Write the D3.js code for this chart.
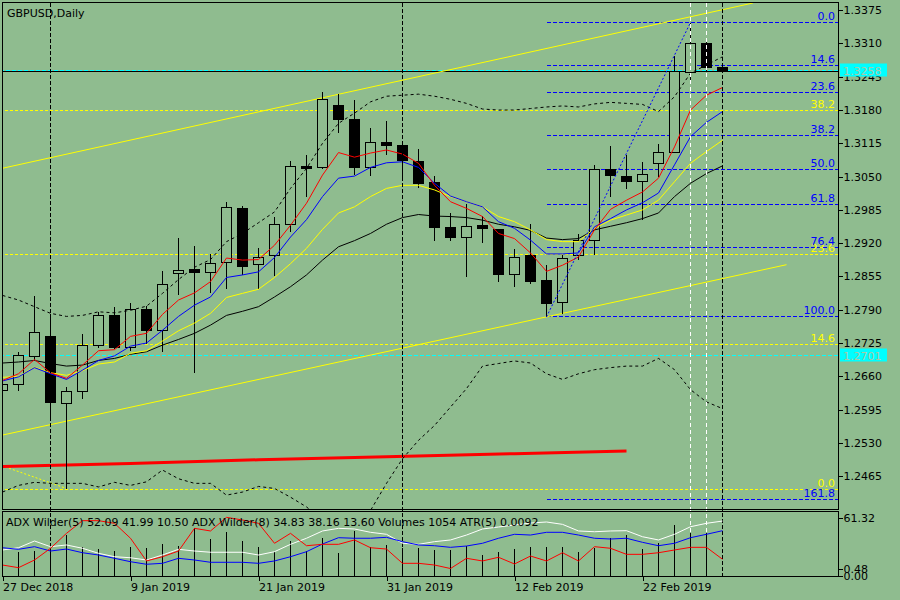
<!DOCTYPE html>
<html><head><meta charset="utf-8">
<script src="https://cdn.jsdelivr.net/npm/d3@7"></script>
<style>
html,body{margin:0;padding:0;background:#8FBC8F;}
svg{display:block;font-family:"DejaVu Sans",sans-serif;font-size:11px;}
</style></head><body>
<svg id="c" width="900" height="600"></svg>
<script>
// ---------------- DATA ----------------
const dates = ["2018-12-27","2018-12-28","2018-12-31","2019-01-02","2019-01-03","2019-01-04","2019-01-07","2019-01-08","2019-01-09","2019-01-10","2019-01-11","2019-01-14","2019-01-15","2019-01-16","2019-01-17","2019-01-18","2019-01-21","2019-01-22","2019-01-23","2019-01-24","2019-01-25","2019-01-28","2019-01-29","2019-01-30","2019-01-31","2019-02-01","2019-02-04","2019-02-05","2019-02-06","2019-02-07","2019-02-08","2019-02-11","2019-02-12","2019-02-13","2019-02-14","2019-02-15","2019-02-18","2019-02-19","2019-02-20","2019-02-21","2019-02-22","2019-02-25","2019-02-26","2019-02-27","2019-02-28","2019-03-01"];
const open  = [1.2634,1.2646,1.2700,1.2739,1.2608,1.2632,1.2722,1.2780,1.2718,1.2792,1.2751,1.2861,1.2869,1.2863,1.2884,1.2988,1.2880,1.2896,1.2957,1.3071,1.3069,1.3189,1.3163,1.3069,1.3118,1.3112,1.3081,1.3040,1.2952,1.2932,1.2956,1.2947,1.2860,1.2896,1.2849,1.2805,1.2896,1.2927,1.3065,1.3052,1.3041,1.3077,1.3098,1.3255,1.3311,1.3264];
const high  = [1.2657,1.2709,1.2818,1.2784,1.2642,1.2745,1.2788,1.2798,1.2806,1.2800,1.2868,1.2933,1.2917,1.2900,1.3003,1.2995,1.2913,1.2974,1.3083,1.3095,1.3218,1.3214,1.3202,1.3147,1.3161,1.3122,1.3105,1.3054,1.2981,1.2999,1.2976,1.2950,1.2911,1.2960,1.2880,1.2898,1.2940,1.3075,1.3111,1.3095,1.3081,1.3116,1.3288,1.3352,1.3321,1.3267];
const low   = [1.2624,1.2634,1.2693,1.2579,1.2442,1.2618,1.2718,1.2716,1.2712,1.2726,1.2710,1.2820,1.2669,1.2825,1.2833,1.2859,1.2833,1.2857,1.2943,1.3012,1.3066,1.3137,1.3056,1.3054,1.3095,1.3044,1.3030,1.2926,1.2926,1.2855,1.2922,1.2846,1.2836,1.2843,1.2777,1.2784,1.2890,1.2898,1.3012,1.3028,1.2967,1.3051,1.3098,1.3236,1.3259,1.3256];
const close = [1.2646,1.2702,1.2747,1.2609,1.2632,1.2722,1.2780,1.2718,1.2792,1.2751,1.2841,1.2868,1.2864,1.2882,1.2990,1.2876,1.2894,1.2958,1.3070,1.3066,1.3202,1.3162,1.3068,1.3118,1.3111,1.3082,1.3038,1.2952,1.2932,1.2954,1.2949,1.2859,1.2893,1.2846,1.2803,1.2891,1.2926,1.3065,1.3053,1.3041,1.3056,1.3098,1.3256,1.3311,1.3264,1.3258];

const maRed    = [1.2653,1.2666,1.2694,1.2668,1.2657,1.2683,1.2711,1.2713,1.2739,1.2745,1.2782,1.2810,1.2824,1.2846,1.2892,1.2888,1.2889,1.2917,1.2956,1.2999,1.3054,1.3098,1.3089,1.3097,1.3103,1.3095,1.3077,1.3034,1.3002,1.2989,1.2973,1.2940,1.2930,1.2902,1.2866,1.2878,1.2894,1.2947,1.2987,1.3005,1.3021,1.3048,1.3109,1.3181,1.3210,1.3225];
const maBlue   = [1.2652,1.2660,1.2678,1.2666,1.2655,1.2673,1.2692,1.2701,1.2720,1.2726,1.2751,1.2778,1.2800,1.2816,1.2854,1.2859,1.2865,1.2893,1.2933,1.2967,1.3012,1.3048,1.3052,1.3069,1.3078,1.3080,1.3069,1.3038,1.3013,1.3002,1.2992,1.2963,1.2950,1.2927,1.2900,1.2900,1.2902,1.2953,1.2969,1.2986,1.3000,1.3019,1.3074,1.3129,1.3157,1.3178];
const maYellow = [1.2659,1.2661,1.2679,1.2668,1.2663,1.2672,1.2685,1.2689,1.2706,1.2711,1.2730,1.2750,1.2765,1.2784,1.2815,1.2823,1.2831,1.2854,1.2881,1.2911,1.2948,1.2980,1.2992,1.3012,1.3028,1.3034,1.3034,1.3025,1.3012,1.3002,1.2992,1.2973,1.2963,1.2947,1.2928,1.2924,1.2924,1.2950,1.2966,1.2976,1.2986,1.3005,1.3041,1.3077,1.3100,1.3122];
const maBlack  = [1.2687,1.2689,1.2692,1.2686,1.2681,1.2683,1.2692,1.2696,1.2704,1.2709,1.2722,1.2733,1.2745,1.2761,1.2780,1.2788,1.2797,1.2816,1.2836,1.2859,1.2888,1.2914,1.2926,1.2940,1.2958,1.2971,1.2977,1.2974,1.2973,1.2971,1.2966,1.2958,1.2953,1.2946,1.2931,1.2928,1.2930,1.2947,1.2954,1.2961,1.2969,1.2980,1.3012,1.3038,1.3057,1.3072];
const bandUpper = [1.2819,1.2810,1.2797,1.2784,1.2778,1.2780,1.2787,1.2785,1.2790,1.2798,1.2823,1.2850,1.2874,1.2889,1.2924,1.2940,1.2961,1.2982,1.3028,1.3067,1.3116,1.3155,1.3175,1.3197,1.3208,1.3210,1.3212,1.3208,1.3202,1.3194,1.3183,1.3181,1.3181,1.3184,1.3187,1.3189,1.3187,1.3193,1.3196,1.3194,1.3192,1.3178,1.3207,1.3253,1.3269,1.3285];
const bandLower = [1.2435,1.2448,1.2454,1.2452,1.2452,1.2452,1.2445,1.2454,1.2448,1.2455,1.2478,1.2461,1.2452,1.2452,1.2429,1.2435,1.2446,1.2442,1.2425,1.2406,1.2380,1.2364,1.2370,1.2399,1.2452,1.2500,1.2536,1.2565,1.2601,1.2637,1.2681,1.2686,1.2691,1.2687,1.2666,1.2655,1.2666,1.2674,1.2678,1.2681,1.2681,1.2696,1.2674,1.2635,1.2611,1.2598];

const maLongBars   = [0, 8, 16, 24, 32, 39];
const maLongValues = [1.2485, 1.2491, 1.2498, 1.2504, 1.2510, 1.2515];

const channelUpper = [[-0.19, 1.3066], [46.9, 1.3390]];
const channelLower = [[-0.19, 1.2545], [49.0, 1.2879]];
const fibBlueTrend = [[34, 1.2777], [43, 1.3352]];
const fibYellowTrend = [[-1, 1.2497], [4, 1.2442]];

const fibBlueStart  = 34;
const fibBlueLevels = [0.0, 14.6, 23.6, 38.2, 50.0, 61.8, 76.4, 100.0, 161.8];
const fibBluePrices = [1.3352, 1.3268, 1.3216, 1.3132, 1.3064, 1.2997, 1.2912, 1.2777, 1.2420];
const fibYellowLevels = [0.0, 14.6, 23.6, 38.2];
const fibYellowPrices = [1.2440, 1.2723, 1.2898, 1.3181];

const bidPrice = 1.3258;
const hLinePrices = [1.3258, 1.2701];
const markerBars = [43, 44];

const priceTicks = [1.2465,1.2530,1.2595,1.2660,1.2725,1.2790,1.2855,1.2920,1.2985,1.3050,1.3115,1.3180,1.3245,1.3310,1.3375];
const dateTickBars = [0, 8, 16, 24, 32, 40];

// indicator window
const adxRed   = [11.6,8.8,16.9,29.3,45.1,58.5,58.5,55.7,39.9,15.9,20.4,26.4,50.4,47.6,62.0,59.2,55.7,34.6,45.1,32.0,33.5,33.5,38.1,29.9,28.5,13.4,13.4,11.6,7.9,18.7,15.9,19.8,12.7,21.1,15.9,24.6,15.9,31.0,29.3,22.9,22.9,24.6,27.5,30.3,30.3,17.7];
const adxWhite = [27.5,29.9,37.0,31.0,32.8,29.3,24.0,20.4,19.3,16.9,22.2,28.2,26.4,25.1,25.1,25.1,22.2,25.7,33.5,39.9,47.6,50.4,49.7,46.2,44.1,34.6,33.5,36.3,38.1,43.3,49.7,51.8,53.9,56.0,57.1,54.6,47.6,46.8,47.6,47.9,41.5,38.1,44.1,52.1,55.7,58.1];
const adxBlue  = [29.9,28.2,31.0,26.4,28.5,24.6,22.2,18.7,15.1,12.4,13.4,18.7,16.9,14.5,14.5,14.5,13.4,15.9,20.4,25.7,33.8,40.5,39.9,39.9,40.9,36.3,32.8,32.0,30.3,31.7,34.6,39.9,44.1,43.3,46.2,46.2,43.3,39.9,39.1,39.9,35.6,32.0,34.6,40.5,44.1,47.9];
const volumes  = [56000,47400,50000,56000,82000,58600,54000,50000,58600,55400,63400,60600,95400,74000,87400,70000,58600,48600,70000,50600,75400,45400,90000,57400,62000,55400,56600,52000,52000,60600,42000,48600,54000,58600,57400,57400,48600,56600,75400,82000,54000,65400,102000,86600,85400,1054];
const panelTickValues = [61.32, 7.6, 0];
const panelTickLabels = ["61.32", "0.48", "0.00"];
const headerText = "ADX Wilder(5) 52.09 41.99 10.50 ADX Wilder(8) 34.83 38.16 13.60 Volumes 1054 ATR(5) 0.0092";
const titleText = "GBPUSD,Daily";

// ---------------- DRAW ----------------
const BG = "#8FBC8F";
const svg = d3.select("#c");
const n = close.length;
const x = d3.scaleLinear().domain([0, 45]).range([2.5, 722.5]);
const y = d3.scaleLinear().domain([1.2465, 1.3375]).range([476.7, 10.7]);
const py = d3.scaleLinear().domain([0, 61.32]).range([576, 518]);
const vy = d3.scaleLinear().domain([0, 116000]).range([576, 518]);
const fy = p => Math.floor(y(p)) + 0.5;

svg.append("rect").attr("width", 900).attr("height", 600).attr("fill", BG);

const defs = svg.append("defs");
defs.append("clipPath").attr("id", "cm").append("rect").attr("x", 3).attr("y", 3).attr("width", 835).attr("height", 506);
defs.append("clipPath").attr("id", "cp").append("rect").attr("x", 3).attr("y", 512).attr("width", 835).attr("height", 64);

const gm = svg.append("g").attr("clip-path", "url(#cm)");

// yellow fib horizontal levels (full width)
gm.selectAll("line.fy").data(fibYellowPrices).join("line")
  .attr("x1", 0).attr("x2", 838).attr("y1", fy).attr("y2", fy)
  .attr("stroke", "#ffff00").attr("stroke-dasharray", "3,2").attr("shape-rendering", "crispEdges");
// blue fib horizontal levels
gm.selectAll("line.fb").data(fibBluePrices).join("line")
  .attr("x1", x(fibBlueStart)).attr("x2", 838).attr("y1", fy).attr("y2", fy)
  .attr("stroke", "#0000ff").attr("stroke-dasharray", "4,2").attr("shape-rendering", "crispEdges");
// cyan horizontal lines
gm.selectAll("line.hc").data(hLinePrices).join("line")
  .attr("x1", 0).attr("x2", 838).attr("y1", fy).attr("y2", fy)
  .attr("stroke", "#00ffff").attr("stroke-dasharray", "4,2").attr("shape-rendering", "crispEdges");
// bid line
gm.append("line").attr("x1", 0).attr("x2", 838).attr("y1", fy(bidPrice) + 1).attr("y2", fy(bidPrice) + 1)
  .attr("stroke", "#000").attr("shape-rendering", "crispEdges");

// separators
const sepBars = d3.range(1, n).filter(i => dates[i].slice(5, 7) !== dates[i - 1].slice(5, 7));
svg.selectAll("line.sep").data(sepBars).join("line")
  .attr("x1", i => x(i)).attr("x2", i => x(i)).attr("y1", 3).attr("y2", 576)
  .attr("stroke", "#000").attr("stroke-dasharray", "4,2").attr("shape-rendering", "crispEdges");
svg.selectAll("line.mk").data(markerBars).join("line")
  .attr("x1", i => x(i)).attr("x2", i => x(i)).attr("y1", 3).attr("y2", 576)
  .attr("stroke", "#ffffff").attr("stroke-dasharray", "4,3").attr("shape-rendering", "crispEdges");

const seg = (pts, color, dash, w) => gm.append("line")
  .attr("x1", x(pts[0][0])).attr("y1", y(pts[0][1])).attr("x2", x(pts[1][0])).attr("y2", y(pts[1][1]))
  .attr("stroke", color).attr("stroke-width", w || 1).attr("stroke-dasharray", dash || null);
seg(channelUpper, "#ffff00");
seg(channelLower, "#ffff00");
seg(fibYellowTrend, "#ffff00", "2,2");

// long MA (thick red)
gm.append("path").datum(maLongBars.map((b, k) => [b, maLongValues[k]]))
  .attr("d", d3.line().x(d => x(d[0])).y(d => y(d[1])))
  .attr("fill", "none").attr("stroke", "#ff0000").attr("stroke-width", 3);

// candles
const gc = gm.append("g").attr("shape-rendering", "crispEdges");
gc.selectAll("line").data(d3.range(n)).join("line")
  .attr("x1", i => x(i)).attr("x2", i => x(i))
  .attr("y1", i => fy(high[i])).attr("y2", i => fy(low[i])).attr("stroke", "#000");
gc.selectAll("rect").data(d3.range(n)).join("rect")
  .attr("x", i => x(i) - 5).attr("width", 10)
  .attr("y", i => fy(Math.max(open[i], close[i])))
  .attr("height", i => Math.max(1, fy(Math.min(open[i], close[i])) - fy(Math.max(open[i], close[i]))))
  .attr("fill", i => close[i] >= open[i] ? BG : "#000").attr("stroke", "#000");

// moving averages & bands
const ln = d3.line().x((d, i) => x(i)).y(d => y(d));
[[bandUpper, "#000", "3,3"], [bandLower, "#000", "3,3"], [maBlack, "#000"], [maYellow, "#ffff00"], [maBlue, "#0000ff"], [maRed, "#ff0000"]]
  .forEach(([arr, c, dash]) => gm.append("path").datum(arr).attr("d", ln)
    .attr("fill", "none").attr("stroke", c).attr("stroke-width", 1).attr("stroke-dasharray", dash || null));

seg(fibBlueTrend, "#0000ff", "2,2");

// fib labels
const f1 = d3.format(".1f");
svg.selectAll("text.fy").data(fibYellowLevels).join("text")
  .attr("x", 835).attr("y", (d, k) => fy(fibYellowPrices[k]) - 3).attr("text-anchor", "end")
  .attr("fill", "#ffff00").text(d => f1(d));
svg.selectAll("text.fb").data(fibBlueLevels).join("text")
  .attr("x", 835).attr("y", (d, k) => fy(fibBluePrices[k]) - 3).attr("text-anchor", "end")
  .attr("fill", "#0000ff").text(d => f1(d));

// ---------- indicator panel ----------
const gp = svg.append("g").attr("clip-path", "url(#cp)");
gp.append("g").attr("shape-rendering", "crispEdges").selectAll("line").data(d3.range(n)).join("line")
  .attr("x1", i => x(i)).attr("x2", i => x(i)).attr("y1", 576).attr("y2", i => Math.round(vy(volumes[i])))
  .attr("stroke", "#000");
const pl = d3.line().x((d, i) => x(i)).y(d => py(d));
[[adxWhite, "#ffffff"], [adxBlue, "#0000ff"], [adxRed, "#ff0000"]].forEach(([arr, c]) =>
  gp.append("path").datum(arr).attr("d", pl).attr("fill", "none").attr("stroke", c).attr("stroke-width", 1));

// ---------- frames ----------
const fr = svg.append("g").attr("fill", "none").attr("stroke", "#000").attr("shape-rendering", "crispEdges");
fr.append("rect").attr("x", 2.5).attr("y", 2.5).attr("width", 836).attr("height", 507);
fr.append("rect").attr("x", 2.5).attr("y", 511.5).attr("width", 836).attr("height", 65);

// price axis
const ax = svg.append("g").attr("transform", "translate(838.5,0)")
  .call(d3.axisRight(y).tickValues(priceTicks).tickSize(4).tickPadding(1).tickFormat(d3.format(".4f")));
ax.select(".domain").remove();
ax.selectAll("text").attr("font-family", "DejaVu Sans").attr("font-size", 11).attr("fill", "#000");
ax.selectAll("line").attr("stroke", "#000").attr("shape-rendering", "crispEdges");
ax.selectAll(".tick").attr("transform", d => `translate(0,${fy(d)})`);

// price labels on axis
hLinePrices.forEach(p => {
  const yc = fy(p);
  svg.append("rect").attr("x", 840).attr("y", yc - 7).attr("width", 47).attr("height", 13).attr("fill", "#00ffff");
  svg.append("text").attr("x", 843).attr("y", yc + 4).attr("fill", "#a8c8a8").text(d3.format(".4f")(p));
});

// panel axis
const pax = svg.append("g").attr("transform", "translate(838.5,0)")
  .call(d3.axisRight(py).tickValues(panelTickValues).tickSize(4).tickPadding(1).tickFormat((d, k) => panelTickLabels[k]));
pax.select(".domain").remove();
pax.selectAll("text").attr("font-family", "DejaVu Sans").attr("font-size", 11).attr("fill", "#000");
pax.selectAll("line").attr("stroke", "#000").attr("shape-rendering", "crispEdges");

// date axis
const parse = d3.timeParse("%Y-%m-%d"), tf = d3.timeFormat("%-d %b %Y");
const dax = svg.append("g").attr("transform", "translate(0,576.5)")
  .call(d3.axisBottom(x).tickValues(dateTickBars).tickSize(4).tickPadding(3).tickFormat(i => tf(parse(dates[i]))));
dax.select(".domain").remove();
dax.selectAll("text").attr("font-family", "DejaVu Sans").attr("font-size", 11).attr("fill", "#000").attr("text-anchor", "start").attr("x", 0);
dax.selectAll("line").attr("stroke", "#000").attr("shape-rendering", "crispEdges");

// titles
svg.append("text").attr("x", 7).attr("y", 16.5).attr("fill", "#000").text(titleText);
svg.append("text").attr("x", 6).attr("y", 526).attr("fill", "#000").text(headerText);
</script>
</body></html>
